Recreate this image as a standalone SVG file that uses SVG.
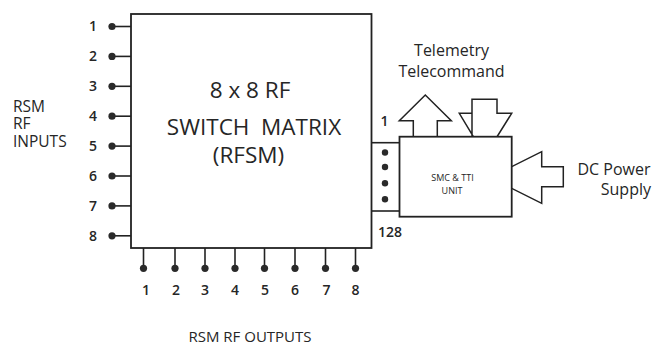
<svg xmlns="http://www.w3.org/2000/svg" width="655" height="345" viewBox="0 0 655 345">
<style>
  text { font-family: "Open Sans", "Liberation Sans", sans-serif; fill: #262626; }
  .box { fill: #fff; stroke: #222; stroke-width: 1.8; }
  .ln { stroke: #222; stroke-width: 1.6; fill: none; }
  .dot { fill: #2a2a2a; }
  .arr { fill: #fff; stroke: #222; stroke-width: 1.5; stroke-linejoin: miter; }
  .num { font-size: 14px; text-anchor: middle; font-weight: 600; }
  .big { font-size: 22.5px; text-anchor: middle; }
  .lbl { font-size: 16px; }
  .side { font-size: 15.5px; }
</style>
<rect width="655" height="345" fill="#fff"/>

<g id="connectors">
  <g class="ln">
    <line x1="112" y1="26.5" x2="131" y2="26.5"/>
    <line x1="112" y1="56.4" x2="131" y2="56.4"/>
    <line x1="112" y1="86.3" x2="131" y2="86.3"/>
    <line x1="112" y1="116.2" x2="131" y2="116.2"/>
    <line x1="112" y1="146.1" x2="131" y2="146.1"/>
    <line x1="112" y1="176" x2="131" y2="176"/>
    <line x1="112" y1="205.9" x2="131" y2="205.9"/>
    <line x1="112" y1="235.8" x2="131" y2="235.8"/>
    <line x1="143.5" y1="248" x2="143.5" y2="268"/>
    <line x1="175" y1="248" x2="175" y2="268"/>
    <line x1="205" y1="248" x2="205" y2="268"/>
    <line x1="235" y1="248" x2="235" y2="268"/>
    <line x1="264.5" y1="248" x2="264.5" y2="268"/>
    <line x1="295" y1="248" x2="295" y2="268"/>
    <line x1="325.5" y1="248" x2="325.5" y2="268"/>
    <line x1="355.5" y1="248" x2="355.5" y2="268"/>
    <line x1="371.5" y1="142.7" x2="399.5" y2="142.7"/>
    <line x1="371.5" y1="211" x2="399.5" y2="211"/>
  </g>
  <g class="dot">
    <circle cx="385" cy="152.5" r="3.2"/>
    <circle cx="385" cy="167" r="3.2"/>
    <circle cx="385" cy="183.3" r="3.2"/>
    <circle cx="385" cy="199.3" r="3.2"/>
  </g>
</g>

<g id="inputs">
  <g class="dot">
    <circle cx="112" cy="26.5" r="3.6"/>
    <circle cx="112" cy="56.4" r="3.6"/>
    <circle cx="112" cy="86.3" r="3.6"/>
    <circle cx="112" cy="116.2" r="3.6"/>
    <circle cx="112" cy="146.1" r="3.6"/>
    <circle cx="112" cy="176" r="3.6"/>
    <circle cx="112" cy="205.9" r="3.6"/>
    <circle cx="112" cy="235.8" r="3.6"/>
  </g>
  <text class="num" x="93" y="31">1</text>
  <text class="num" x="93" y="61">2</text>
  <text class="num" x="93" y="91">3</text>
  <text class="num" x="93" y="121">4</text>
  <text class="num" x="93" y="151">5</text>
  <text class="num" x="93" y="181">6</text>
  <text class="num" x="93" y="211">7</text>
  <text class="num" x="93" y="241">8</text>
  <text class="side" x="13" y="111.5">RSM</text>
  <text class="side" x="13" y="129">RF</text>
  <text class="side" x="13" y="146.5">INPUTS</text>
</g>

<g id="outputs">
  <g class="dot">
    <circle cx="143.5" cy="268.3" r="3.6"/>
    <circle cx="175" cy="268.3" r="3.6"/>
    <circle cx="205" cy="268.3" r="3.6"/>
    <circle cx="235" cy="268.3" r="3.6"/>
    <circle cx="264.5" cy="268.3" r="3.6"/>
    <circle cx="295" cy="268.3" r="3.6"/>
    <circle cx="325.5" cy="268.3" r="3.6"/>
    <circle cx="355.5" cy="268.3" r="3.6"/>
  </g>
  <text class="num" x="146" y="295">1</text>
  <text class="num" x="176" y="295">2</text>
  <text class="num" x="205" y="295">3</text>
  <text class="num" x="235" y="295">4</text>
  <text class="num" x="265" y="295">5</text>
  <text class="num" x="295" y="295">6</text>
  <text class="num" x="326.5" y="295">7</text>
  <text class="num" x="355.5" y="295">8</text>
  <text x="250" y="342" style="font-size:15px;text-anchor:middle">RSM RF OUTPUTS</text>
</g>

<g id="rfsm">
  <rect class="box" x="131" y="14" width="240.5" height="234"/>
  <text class="big" x="250" y="98">8 x 8 RF</text>
  <text class="big" x="254" y="135">SWITCH&#160; MATRIX</text>
  <text class="big" x="248.5" y="163">(RFSM)</text>
  <text class="num" x="384.5" y="126">1</text>
  <text class="num" x="390" y="237">128</text>
</g>

<g id="telemetry-arrow">
  <polygon class="arr" points="413.3,137 413.3,120.7 399.3,120.7 425.3,95 451.3,120.7 437.3,120.7 437.3,137"/>
</g>
<g id="telecommand-arrow">
  <polygon class="arr" points="472,150 472,99.3 497,99.3 497,113.3 511.7,113.3 485,156 459.3,113.3 472,113.3"/>
</g>
<g id="power-arrow">
  <polygon class="arr" points="541.7,151.7 541.7,166.7 563.3,166.7 563.3,186.7 541.7,186.7 541.7,203.3 490,177.5"/>
</g>

<g id="smc-tti">
  <rect class="box" x="399.5" y="136.7" width="112.2" height="80"/>
  <text x="452.5" y="181" style="font-size:9px;text-anchor:middle">SMC &amp; TTI</text>
  <text x="452" y="193.5" style="font-size:9px;text-anchor:middle">UNIT</text>
</g>

<text class="lbl" x="451.5" y="56" style="text-anchor:middle">Telemetry</text>
<text class="lbl" x="451.5" y="77" style="text-anchor:middle">Telecommand</text>
<text class="lbl" x="614" y="175" style="text-anchor:middle">DC Power</text>
<text class="lbl" x="651" y="194.5" style="text-anchor:end">Supply</text>
</svg>
